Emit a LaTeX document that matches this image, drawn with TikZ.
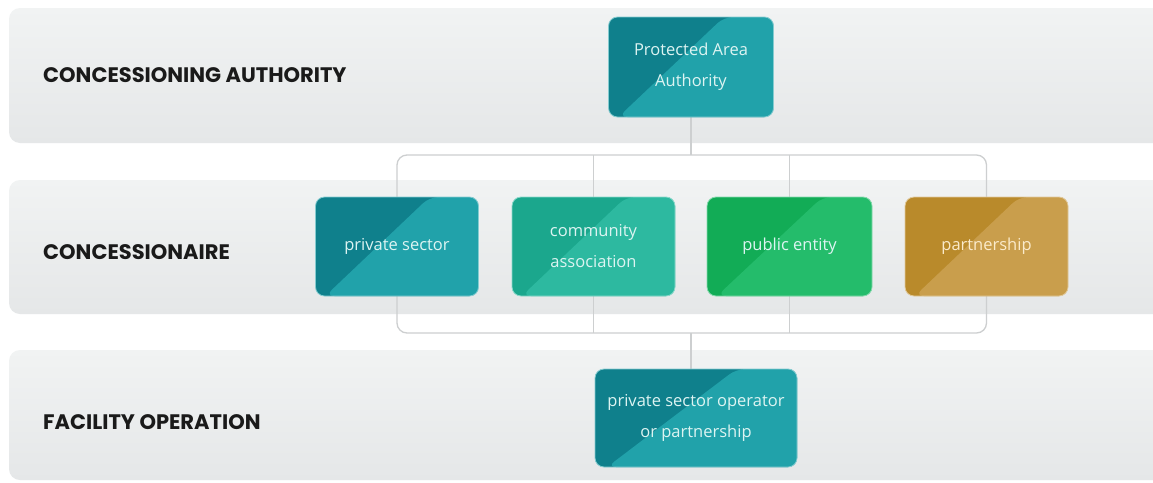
\documentclass[tikz,border=0pt]{standalone}
\usepackage{fontspec}
\setmainfont{Open Sans}
\newfontfamily\lblfont{Poppins}
\newfontfamily\boxfont{Open Sans}
\usetikzlibrary{calc}
\pgfdeclarelayer{bands}
\pgfdeclarelayer{lines}
\pgfsetlayers{bands,lines,main}
\definecolor{bandtop}{HTML}{F1F3F3}
\definecolor{bandbot}{HTML}{E5E7E8}
\definecolor{conncol}{HTML}{CDCFD0}
\definecolor{tealD}{HTML}{0F808C}
\definecolor{tealL}{HTML}{21A2AA}
\definecolor{commD}{HTML}{1BA78D}
\definecolor{commL}{HTML}{2DB9A0}
\definecolor{pubD}{HTML}{12AC56}
\definecolor{pubL}{HTML}{24BC6B}
\definecolor{partD}{HTML}{B98A2B}
\definecolor{partL}{HTML}{C99E4C}
\definecolor{boxtext}{HTML}{DDF4F2}
\definecolor{parttext}{HTML}{FBEBCB}
\definecolor{lbltext}{HTML}{1A1A1A}
\tikzset{
  band/.style={rounded corners=11pt, top color=bandtop, bottom color=bandbot, draw=none},
  conn/.style={draw=conncol, line width=1.3pt},
  cbox/.style n args={3}{rounded corners=9pt, fill=#1, draw=#2!55!white, line width=0.8pt,
    text=#3, align=center, inner sep=0pt, font=\boxfont\fontsize{16.5}{31}\selectfont,
    path picture={\fill[#2]
      ($(path picture bounding box.north west)!0.70!(path picture bounding box.north east)$)
      -- (path picture bounding box.north east)
      -- (path picture bounding box.south east)
      -- ($(path picture bounding box.south west)!0.06!(path picture bounding box.south east)$)
      -- cycle;}},
  lbl/.style={anchor=west, text=lbltext, inner sep=0pt, font=\lblfont\bfseries\fontsize{21}{25}\selectfont}
}
\begin{document}
\begin{tikzpicture}[x=1pt,y=-1pt]
\useasboundingbox (0,0) rectangle (1153,482);
% bands
\begin{pgfonlayer}{bands}
\fill[white] (0,0) rectangle (1153,482);
\path[band] (9,8) rectangle (1175,143);
\path[band] (9,180) rectangle (1175,314);
\path[band] (9,350) rectangle (1175,480);
\end{pgfonlayer}
% labels
\node[lbl] (l1) at (43,75) {CONCESSIONING AUTHORITY};
\node[lbl] (l2) at (43,252) {CONCESSIONAIRE};
\node[lbl] (l3) at (43,422) {FACILITY OPERATION};
% boxes
\node[cbox={tealD}{tealL}{boxtext}, minimum width=165pt, minimum height=100pt] (paa) at (691,67) {Protected Area\\Authority};
\node[cbox={tealD}{tealL}{boxtext}, minimum width=163pt, minimum height=99pt] (ps) at (397,246.5) {private sector};
\node[cbox={commD}{commL}{boxtext}, minimum width=163pt, minimum height=99pt] (ca) at (593.5,246.5) {community\\association};
\node[cbox={pubD}{pubL}{boxtext}, minimum width=165pt, minimum height=99pt] (pe) at (789.5,246.5) {public entity};
\node[cbox={partD}{partL}{parttext}, minimum width=163pt, minimum height=99pt] (pa) at (986.5,246.5) {partnership};
\node[cbox={tealD}{tealL}{boxtext}, minimum width=202pt, minimum height=98pt] (fo) at (696,418) {private sector operator\\or partnership};
% connectors
\coordinate (hubT) at (691,155);
\coordinate (hubB) at (691,333);
\begin{pgfonlayer}{lines}
\draw[conn] (paa.south) -- (hubT);
\draw[conn, rounded corners=10pt] (ps.center) |- (hubT) -| (pa.center);
\draw[conn, rounded corners=10pt] (ps.center) |- (hubB) -| (pa.center);
\draw[conn] (ca.center |- hubT) -- (ca.center |- hubB);
\draw[conn] (pe.center |- hubT) -- (pe.center |- hubB);
\draw[conn] (hubB) -- (hubB |- fo.north);
\end{pgfonlayer}
\end{tikzpicture}
\end{document}
